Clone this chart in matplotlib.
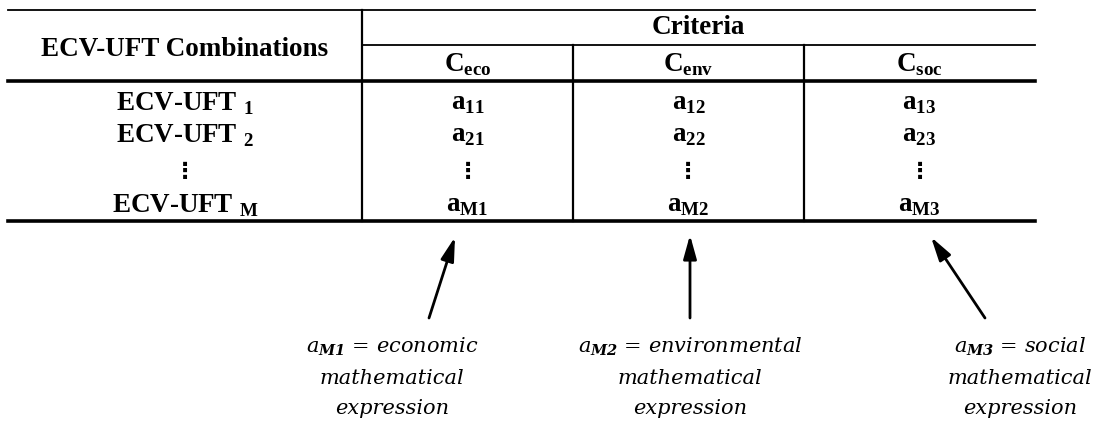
#!/usr/bin/env python3
"""
Decision matrix layout: ECV-UFT combinations against the three criteria,
with notes pointing at the last row.
"""

import matplotlib
matplotlib.use('Agg')
import matplotlib.pyplot as plt

# mathtext fonts: bold serif for the table, italic serif for the notes
plt.rcParams['mathtext.fontset'] = 'custom'
plt.rcParams['mathtext.rm'] = 'Liberation Serif:bold'
plt.rcParams['mathtext.bf'] = 'Liberation Serif:bold'
plt.rcParams['mathtext.it'] = 'DejaVu Serif:italic'
plt.rcParams['mathtext.bfit'] = 'DejaVu Serif:italic:bold'

# Table content
row_header = 'ECV-UFT Combinations'
group_header = 'Criteria'
criteria = ['eco', 'env', 'soc']
row_ids = ['1', '2', None, 'M']          # None -> vertical ellipsis row
cell_ids = [['11', '12', '13'],
            ['21', '22', '23'],
            [None, None, None],
            ['M1', 'M2', 'M3']]

# Notes under the last row
note_ids = ['M1', 'M2', 'M3']
note_kinds = ['economic', 'environmental', 'social']

# Layout (pixel-like coordinates, y downwards)
x_left, x_right = 8, 1035
col_edges = [362, 573, 804, 1035]
y_top, y_crit, y_head, y_bottom = 10, 45, 81, 221
row_y = [104, 136, 172, 206]
note_x = [392, 690, 1020]
note_y = [347, 378, 408]
arrow_tail = [(429, 318), (690, 318), (985, 318)]
arrow_head = [(455, 237), (690, 235), (931, 237)]

table_font = dict(family=['Liberation Serif', 'DejaVu Serif'], weight='bold', fontsize=19.5)
dots_font = dict(family=['DejaVu Sans'], weight='bold', fontsize=16)
note_font = dict(family=['DejaVu Serif'], style='italic', fontsize=15)

fig = plt.figure(figsize=(11, 4.26), dpi=100)
ax = fig.add_axes([0, 0, 1, 1])
ax.set_xlim(0, 1100)
ax.set_ylim(426, 0)
ax.axis('off')

# Rules
ax.plot([x_left, x_right], [y_top, y_top], color='black', lw=1.3)
ax.plot([col_edges[0], x_right], [y_crit, y_crit], color='black', lw=1.3)
ax.plot([x_left, x_right], [y_head, y_head], color='black', lw=2.6)
ax.plot([x_left, x_right], [y_bottom, y_bottom], color='black', lw=2.6)
ax.plot([col_edges[0], col_edges[0]], [y_top, y_bottom], color='black', lw=1.6)
for xe in col_edges[1:3]:
    ax.plot([xe, xe], [y_crit, y_bottom], color='black', lw=1.6)

# Headers
ax.text((x_left + col_edges[0]) / 2, (y_top + y_head) / 2 + 4, row_header,
        ha='center', va='center', **table_font)
ax.text((col_edges[0] + x_right) / 2, (y_top + y_crit) / 2, group_header,
        ha='center', va='center', **table_font)
col_centers = [(col_edges[i] + col_edges[i + 1]) / 2 for i in range(3)]
for xc, c in zip(col_centers, criteria):
    ax.text(xc, (y_crit + y_head) / 2 + 2, 'C$_{\\mathbf{%s}}$' % c,
            ha='center', va='center', **table_font)

# Body rows
for y, rid, cells in zip(row_y, row_ids, cell_ids):
    if rid is None:
        ax.text((x_left + col_edges[0]) / 2, y, '\u22ee', ha='center', va='center', **dots_font)
    else:
        ax.text((x_left + col_edges[0]) / 2, y, 'ECV-UFT $_{\\mathbf{%s}}$' % rid,
                ha='center', va='center', **table_font)
    for xc, cid in zip(col_centers, cells):
        if cid is None:
            ax.text(xc, y, '\u22ee', ha='center', va='center', **dots_font)
        else:
            ax.text(xc, y, 'a$_{\\mathbf{%s}}$' % cid, ha='center', va='center', **table_font)

# Arrows and notes
for tail, head in zip(arrow_tail, arrow_head):
    ax.annotate('', xy=head, xytext=tail,
                arrowprops=dict(arrowstyle='-|>,head_length=0.9,head_width=0.25',
                                color='black', lw=2, mutation_scale=16,
                                shrinkA=0, shrinkB=0))

for xn, nid, kind in zip(note_x, note_ids, note_kinds):
    ax.text(xn, note_y[0], '$a_{\\mathbfit{%s}}$ = %s' % (nid, kind),
            ha='center', va='center', **note_font)
    ax.text(xn, note_y[1], 'mathematical', ha='center', va='center', **note_font)
    ax.text(xn, note_y[2], 'expression', ha='center', va='center', **note_font)

fig.savefig('out.png', dpi=100)
